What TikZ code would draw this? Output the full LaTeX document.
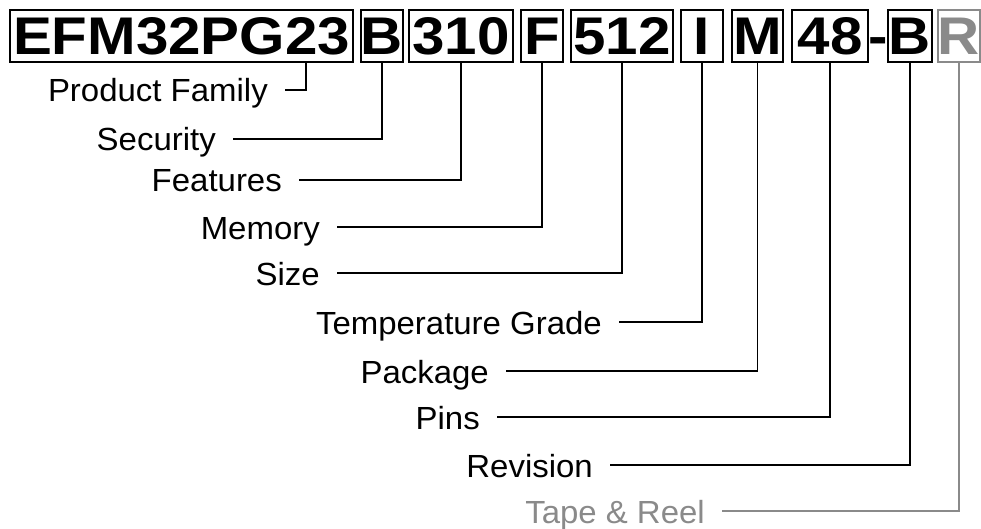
\documentclass[tikz,border=0pt]{standalone}
\usepackage{fontspec}
\setmainfont{Liberation Sans}
\newfontfamily\labfont[FakeStretch=1.03]{Liberation Sans}
\newfontfamily\codefont[FakeStretch=1.1]{Liberation Sans}
\definecolor{pale}{RGB}{138,138,138}
\begin{document}
\begin{tikzpicture}[x=1pt,y=-1pt,
  codebox/.style={draw, line width=1.9pt, minimum height=52pt, inner sep=0pt,
    text height=38pt, text depth=0pt,
    font=\codefont\bfseries\fontsize{53}{53}\selectfont},
  codetext/.style={inner sep=0pt, text height=38pt, text depth=0pt,
    font=\codefont\bfseries\fontsize{53}{53}\selectfont},
  lab/.style={anchor=east, inner xsep=17pt, inner ysep=0pt,
    text height=24pt, text depth=0pt,
    font=\labfont\fontsize{32}{32}\selectfont},
  conn/.style={line width=1.9pt},
]
\useasboundingbox (0,0) rectangle (981,529);
% code boxes
\node[codebox, minimum width=343pt] (efm) at (181.5,36) {EFM32PG23};
\node[codebox, minimum width=42pt]  (sec) at (382,36) {B};
\node[codebox, minimum width=104pt] (fea) at (461,36) {310};
\node[codebox, minimum width=42pt]  (mem) at (542,36) {F};
\node[codebox, minimum width=102pt] (siz) at (622,36) {512};
\node[codebox, minimum width=42pt]  (tmp) at (702,36) {I};
\node[codebox, minimum width=51pt]  (pkg) at (757.5,36) {M};
\node[codebox, minimum width=76pt]  (pin) at (830,36) {48};
\node[codetext] (dash) at (878.5,36) {-};
\node[codebox, minimum width=44pt]  (rev) at (910,36) {B};
\node[codebox, minimum width=41pt, draw=pale, text=pale] (tnr) at (959,36) {R};
\coordinate (pfdrop) at ([xshift=-48pt]efm.south east);
% labels
\node[lab] (lpf)  at (285,90)  {Product Family};
\node[lab] (lsec) at (233,139) {Security};
\node[lab] (lfea) at (299,180) {Features};
\node[lab] (lmem) at (337,227) {Memory};
\node[lab] (lsiz) at (337,273) {Size};
\node[lab] (ltmp) at (619,322) {Temperature Grade};
\node[lab] (lpkg) at (506,371) {Package};
\node[lab] (lpin) at (497,417) {Pins};
\node[lab] (lrev) at (610,465) {Revision};
\node[lab, text=pale] (ltnr) at (722,511) {Tape \& Reel};
% connectors
\draw[conn] (pfdrop) |- (lpf.east);
\draw[conn] (sec.south) |- (lsec.east);
\draw[conn] (fea.south) |- (lfea.east);
\draw[conn] (mem.south) |- (lmem.east);
\draw[conn] (siz.south) |- (lsiz.east);
\draw[conn] (tmp.south) |- (ltmp.east);
\draw[conn] (pkg.south) |- (lpkg.east);
\draw[conn] (pin.south) |- (lpin.east);
\draw[conn] (rev.south) |- (lrev.east);
\draw[conn, draw=pale] (tnr.south) |- (ltnr.east);
\end{tikzpicture}
\end{document}
